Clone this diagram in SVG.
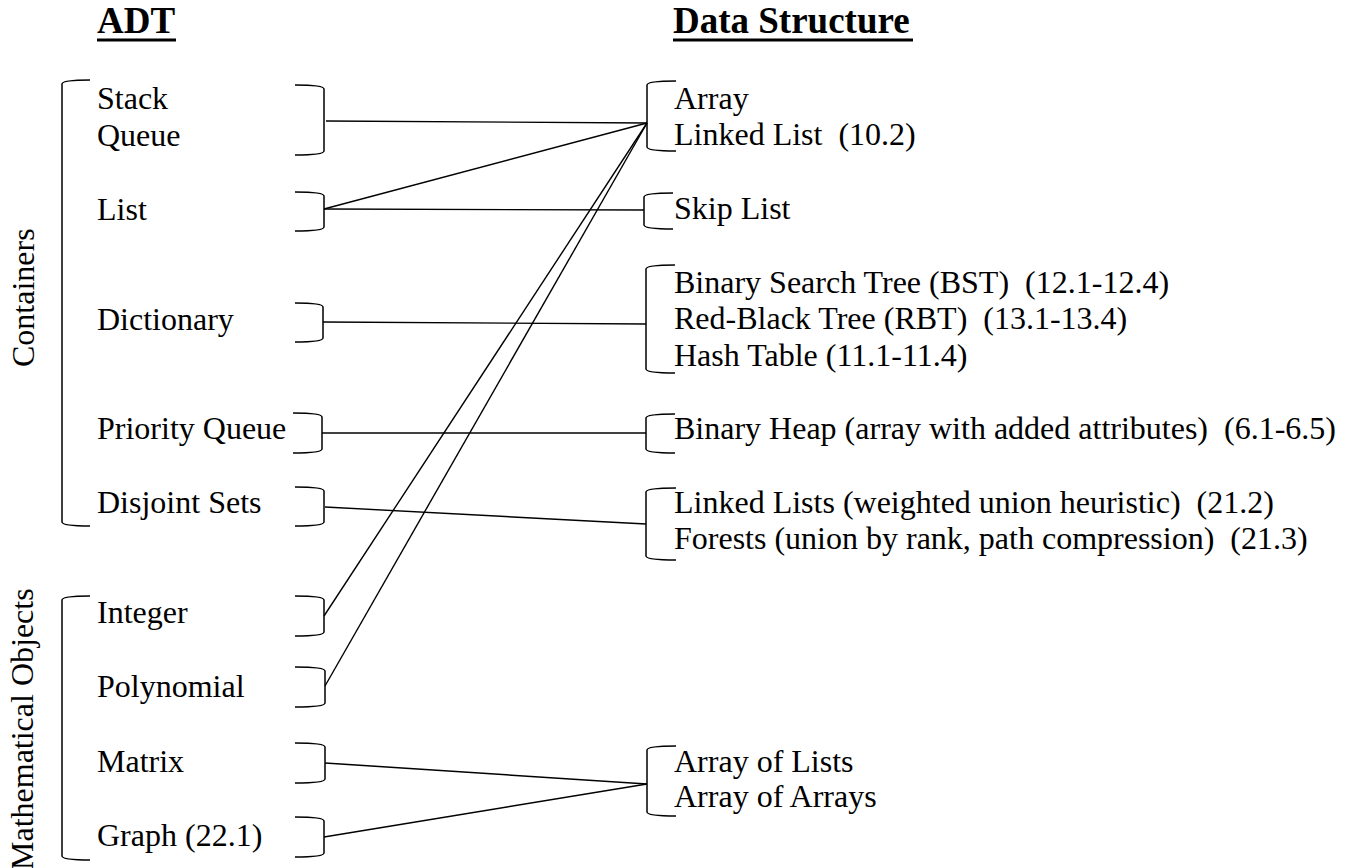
<svg xmlns="http://www.w3.org/2000/svg" width="1347" height="868" viewBox="0 0 1347 868">
<style>
  text { font-family: 'Liberation Serif', 'Times New Roman', 'DejaVu Serif', serif; font-size: 32px; fill: #000; white-space: pre; }
  .hdr { font-weight: bold; font-size: 37px; }
  .br { fill: none; stroke: #000; stroke-width: 1.5; }
  .cn { fill: none; stroke: #000; stroke-width: 1.4; }
  .ul { stroke: #000; stroke-width: 3; }
</style>
<rect width="1347" height="868" fill="#fff"/>

<g id="headers" font-family="Liberation Serif, serif">
  <text class="hdr" x="97" y="33">ADT</text>
  <line class="ul" x1="97" y1="40" x2="176" y2="40"/>
  <text class="hdr" x="673" y="33">Data Structure</text>
  <line class="ul" x1="673" y1="40" x2="913" y2="40"/>
</g>

<g id="group-containers">
  <path class="br" d="M90,80 Q62,80 62,84 L62,522 Q62,526 90,526"/>
  <text transform="translate(34,367) rotate(-90)">Containers</text>
</g>
<g id="group-math">
  <path class="br" d="M90,596 Q62,596 62,600 L62,856 Q62,860 90,860"/>
  <text transform="translate(33,870) rotate(-90)">Mathematical Objects</text>
</g>

<g id="adt-stack-queue">
  <text x="97" y="109">Stack</text>
  <text x="97" y="146">Queue</text>
  <path class="br" d="M295,85 Q324,85 324,89 L324,151 Q324,155 295,155"/>
</g>
<g id="adt-list">
  <text x="97" y="220">List</text>
  <path class="br" d="M295,192 Q324,192 324,196 L324,227 Q324,231 295,231"/>
</g>
<g id="adt-dictionary">
  <text x="97" y="330">Dictionary</text>
  <path class="br" d="M295,303 Q323,303 323,307 L323,338 Q323,342 295,342"/>
</g>
<g id="adt-priority-queue">
  <text x="97" y="439">Priority Queue</text>
  <path class="br" d="M293,413 Q322,413 322,417 L322,449 Q322,453 293,453"/>
</g>
<g id="adt-disjoint-sets">
  <text x="97" y="513">Disjoint Sets</text>
  <path class="br" d="M295,487 Q324,487 324,491 L324,522 Q324,526 295,526"/>
</g>
<g id="adt-integer">
  <text x="97" y="623">Integer</text>
  <path class="br" d="M295,596 Q324,596 324,600 L324,632 Q324,636 295,636"/>
</g>
<g id="adt-polynomial">
  <text x="97" y="697">Polynomial</text>
  <path class="br" d="M295,667 Q325,667 325,671 L325,703 Q325,707 295,707"/>
</g>
<g id="adt-matrix">
  <text x="97" y="772">Matrix</text>
  <path class="br" d="M295,743 Q325,743 325,747 L325,779 Q325,783 295,783"/>
</g>
<g id="adt-graph">
  <text x="97" y="846">Graph (22.1)</text>
  <path class="br" d="M295,817 Q324,817 324,821 L324,853 Q324,857 295,857"/>
</g>

<g id="ds-array-linked">
  <path class="br" d="M676,81 Q647,81 647,85 L647,147 Q647,151 676,151"/>
  <text x="674" y="109">Array</text>
  <text x="674" y="145">Linked List  (10.2)</text>
</g>
<g id="ds-skip-list">
  <path class="br" d="M673,193 Q644,193 644,197 L644,225 Q644,229 673,229"/>
  <text x="674" y="219">Skip List</text>
</g>
<g id="ds-trees">
  <path class="br" d="M675,265 Q646,265 646,269 L646,369 Q646,373 675,373"/>
  <text x="674" y="293">Binary Search Tree (BST)  (12.1-12.4)</text>
  <text x="674" y="329">Red-Black Tree (RBT)  (13.1-13.4)</text>
  <text x="674" y="366">Hash Table (11.1-11.4)</text>
</g>
<g id="ds-binary-heap">
  <path class="br" d="M675,414 Q646,414 646,418 L646,449 Q646,453 675,453"/>
  <text x="674" y="439">Binary Heap (array with added attributes)  (6.1-6.5)</text>
</g>
<g id="ds-disjoint">
  <path class="br" d="M676,488 Q646,488 646,492 L646,556 Q646,560 676,560"/>
  <text x="674" y="513">Linked Lists (weighted union heuristic)  (21.2)</text>
  <text x="674" y="549">Forests (union by rank, path compression)  (21.3)</text>
</g>
<g id="ds-arrays">
  <path class="br" d="M676,746 Q647,746 647,750 L647,812 Q647,816 676,816"/>
  <text x="674" y="772">Array of Lists</text>
  <text x="674" y="807">Array of Arrays</text>
</g>

<g id="connectors">
  <line class="cn" x1="326" y1="121" x2="647" y2="123"/>
  <line class="cn" x1="324" y1="209" x2="647" y2="123"/>
  <line class="cn" x1="324" y1="209" x2="644" y2="210"/>
  <line class="cn" x1="323" y1="322" x2="646" y2="324"/>
  <line class="cn" x1="322" y1="433" x2="646" y2="433"/>
  <line class="cn" x1="325" y1="507" x2="646" y2="524"/>
  <line class="cn" x1="324" y1="616" x2="647" y2="123"/>
  <line class="cn" x1="325" y1="686" x2="647" y2="123"/>
  <line class="cn" x1="325" y1="763" x2="647" y2="784"/>
  <line class="cn" x1="324" y1="837" x2="647" y2="784"/>
</g>
</svg>
